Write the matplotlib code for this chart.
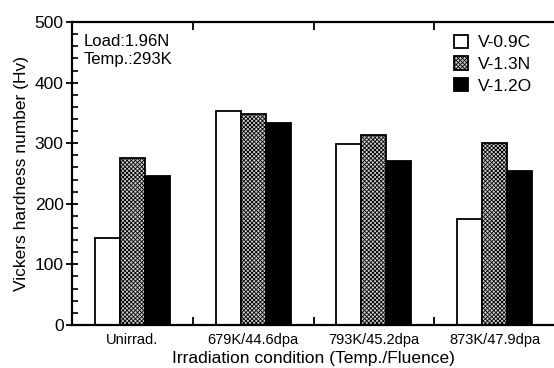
import numpy as np
import matplotlib
matplotlib.use('Agg')
import matplotlib.pyplot as plt
from matplotlib.ticker import MultipleLocator, FixedLocator

plt.rcParams['font.family'] = ['Liberation Sans', 'DejaVu Sans']
plt.rcParams['hatch.color'] = '#8c8c8c'
plt.rcParams['hatch.linewidth'] = 0.6

conditions = ['Unirrad.', '679K/44.6dpa', '793K/45.2dpa', '873K/47.9dpa']
series = ['V-0.9C', 'V-1.3N', 'V-1.2O']
v09c = [144, 353, 299, 175]
v13n = [275, 349, 314, 300]
v12o = [246, 334, 271, 254]

fig = plt.figure(figsize=(5.54, 3.68), dpi=100)
ax = fig.add_axes([0.130, 0.117, 0.872, 0.823])

x = np.arange(len(conditions)) + 0.5
w = 0.207
styles = [dict(facecolor='white', hatch=None),
          dict(facecolor='#cfcfcf', hatch='xxxxxxxx'),
          dict(facecolor='black', hatch=None)]
handles = []
for i, (vals, st) in enumerate(zip([v09c, v13n, v12o], styles)):
    b = ax.bar(x + (i - 1) * w, vals, width=w, edgecolor='black', linewidth=1.3,
               label=series[i], **st)
    handles.append(b)

ax.set_xlim(0, 4)
ax.set_ylim(0, 500)
ax.set_xticks(x)
ax.set_xticklabels(conditions, fontsize=10.5)
ax.xaxis.set_minor_locator(FixedLocator([1, 2, 3]))
ax.tick_params(axis='x', which='major', length=0, pad=6)
ax.tick_params(axis='x', which='minor', direction='in', length=6, width=1.3, top=True)
ax.yaxis.set_major_locator(MultipleLocator(100))
ax.yaxis.set_minor_locator(MultipleLocator(20))
ax.tick_params(axis='y', which='major', direction='inout', length=8, width=1.3,
               labelsize=12.5, pad=2)
ax.tick_params(axis='y', which='minor', direction='in', length=4, width=1.2)
for s in ['left', 'bottom', 'top']:
    ax.spines[s].set_linewidth(1.6)
ax.spines['right'].set_visible(False)

ax.set_ylabel('Vickers hardness number (Hv)', fontsize=12.5, labelpad=4)
ax.set_xlabel('Irradiation condition (Temp./Fluence)', fontsize=12.5, labelpad=3)

ax.text(0.023, 0.962, 'Load:1.96N\nTemp.:293K', transform=ax.transAxes,
        fontsize=12, va='top', ha='left', linespacing=1.3)

ax.legend(handles=handles, loc='upper right', bbox_to_anchor=(0.985, 1.01),
          frameon=False, fontsize=12.5, handlelength=0.8, handleheight=0.8,
          handletextpad=0.6, labelspacing=0.35)

fig.savefig('out.png', dpi=100)
